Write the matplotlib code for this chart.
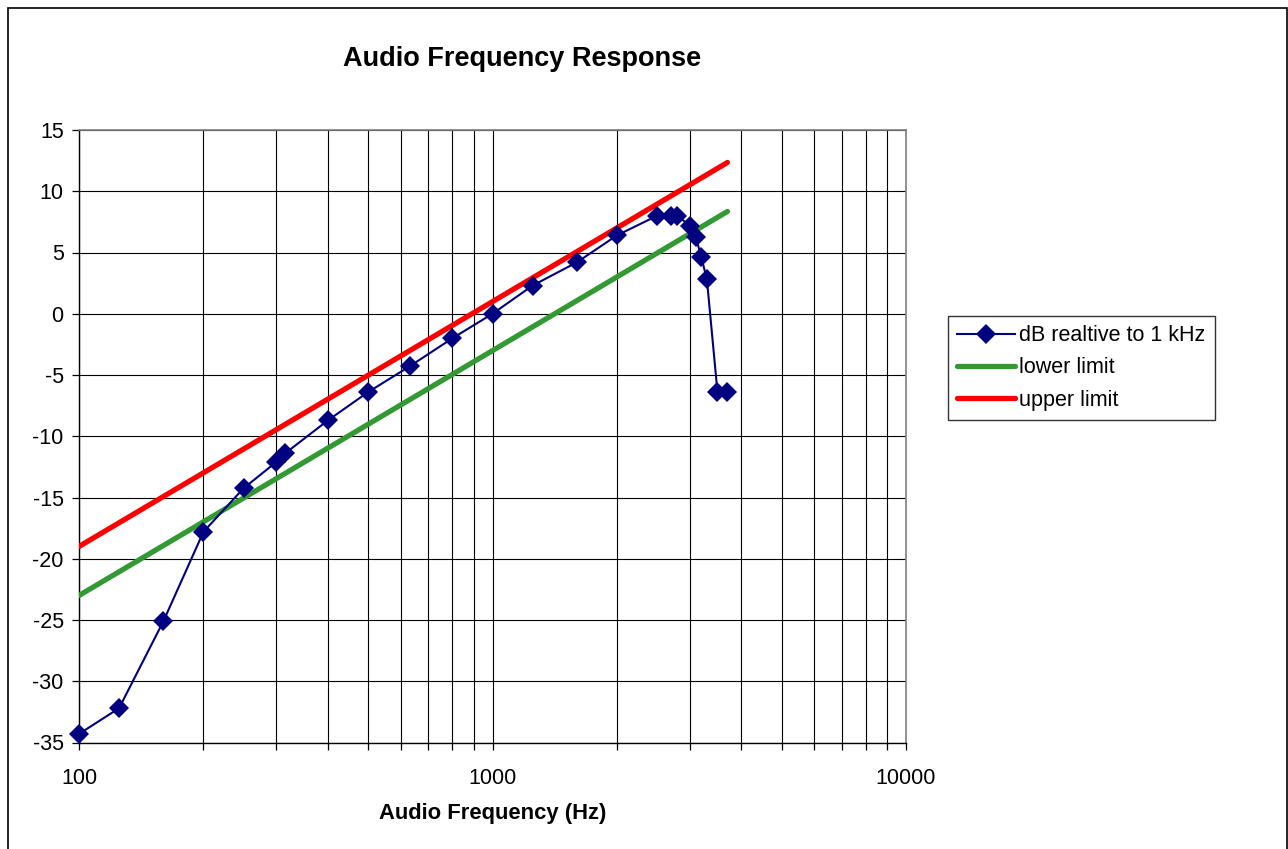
import matplotlib
matplotlib.use("Agg")
import matplotlib.pyplot as plt
from matplotlib.patches import Rectangle
from matplotlib.ticker import LogLocator, FixedLocator, FixedFormatter, NullFormatter

plt.rcParams['font.family'] = ['Liberation Sans', 'DejaVu Sans']
plt.rcParams['axes.unicode_minus'] = False

# Measured response, dB relative to 1 kHz
freq_hz = [100, 125, 160, 200, 250, 300, 315, 400, 500, 630, 800, 1000,
           1250, 1600, 2000, 2500, 2700, 2800, 3000, 3100, 3200, 3300,
           3500, 3700]
response_db = [-34.3, -32.2, -25.1, -17.8, -14.25, -12.1, -11.4, -8.7,
               -6.4, -4.3, -2.0, 0.0, 2.3, 4.2, 6.4, 8.0, 8.0, 8.0, 7.2,
               6.3, 4.6, 2.8, -6.4, -6.4]

# Tolerance limits (straight lines on the log-frequency axis)
limit_freq_hz = [100, 3700]
lower_limit_db = [-23.0, 8.35]
upper_limit_db = [-19.0, 12.35]

y_ticks = [15, 10, 5, 0, -5, -10, -15, -20, -25, -30, -35]
x_ticks = [100, 1000, 10000]
x_tick_labels = ['100', '1000', '10000']

W, H = 1288, 849
fig = plt.figure(figsize=(W / 100, H / 100), dpi=100)

# outer chart frame
fig.patches.append(Rectangle((8 / W, -0.01), (1287 - 8) / W, (H - 8) / H + 0.01,
                             transform=fig.transFigure, fill=False,
                             edgecolor='black', linewidth=1.2))

ax = fig.add_axes([79 / W, (H - 742.5) / H, (906 - 79) / W, (742.5 - 130) / H])
ax.set_xscale('log')
ax.set_xlim(100, 10000)
ax.set_ylim(-35, 15)

ax.plot(freq_hz, response_db, color='#000080', linewidth=1.5, marker='D',
        markersize=10, markeredgewidth=0, label='dB realtive to 1 kHz',
        zorder=5, clip_on=False)
ax.plot(limit_freq_hz, lower_limit_db, color='#339933', linewidth=3.8,
        solid_capstyle='round', label='lower limit', zorder=3)
ax.plot(limit_freq_hz, upper_limit_db, color='#ff0000', linewidth=3.8,
        solid_capstyle='round', label='upper limit', zorder=4)

ax.xaxis.set_major_locator(FixedLocator(x_ticks))
ax.xaxis.set_major_formatter(FixedFormatter(x_tick_labels))
ax.xaxis.set_minor_locator(LogLocator(base=10, subs=range(2, 10)))
ax.xaxis.set_minor_formatter(NullFormatter())
ax.set_yticks(y_ticks)
ax.set_yticklabels([str(v) for v in y_ticks])

ax.grid(True, which='both', axis='x', color='black', linewidth=0.8)
ax.grid(True, which='major', axis='y', color='black', linewidth=0.8)
ax.set_axisbelow(True)

ax.tick_params(axis='both', which='both', direction='out', length=5,
               width=0.9, color='black', labelsize=15.5)
ax.tick_params(axis='x', which='major', pad=13)
ax.tick_params(axis='y', which='major', pad=6)
ax.tick_params(axis='x', which='minor', length=5)

for side in ('left', 'bottom'):
    ax.spines[side].set_color('black')
    ax.spines[side].set_linewidth(1.0)
for side in ('top', 'right'):
    ax.spines[side].set_color('#808080')
    ax.spines[side].set_linewidth(1.2)

fig.text(522 / W, 1 - 59 / H, 'Audio Frequency Response', ha='center',
         va='center', fontsize=19.5, fontweight='bold')
fig.text(492.5 / W, 1 - 814 / H, 'Audio Frequency (Hz)', ha='center',
         va='center', fontsize=15.8, fontweight='bold')

leg = fig.legend(loc='upper left', bbox_to_anchor=(948 / W, 1 - 316 / H),
                 frameon=True, fancybox=False, fontsize=15.5,
                 handlelength=2.7, handletextpad=0.2, borderpad=0.42,
                 labelspacing=0.53, borderaxespad=0)
leg.get_frame().set_edgecolor('black')
leg.get_frame().set_linewidth(1.0)

fig.savefig('out.png', dpi=100)
